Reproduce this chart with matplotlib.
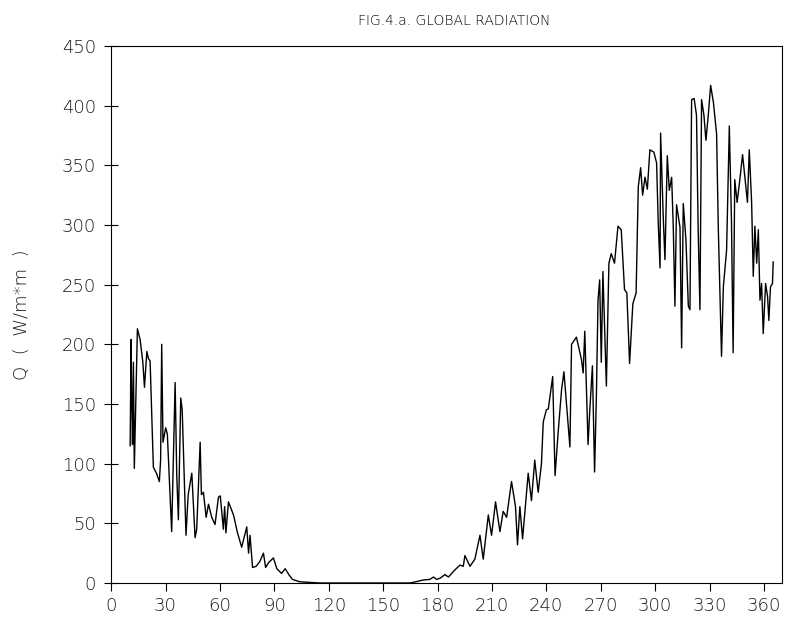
import matplotlib
matplotlib.use('Agg')
import matplotlib.pyplot as plt

# Суточная суммарная радиация
days = [10.5, 11.0, 11.4, 11.8, 12.3, 12.8, 14.5, 16.0, 17.5, 18.4, 19.7, 20.6, 21.5,
        23.3, 25.0, 26.6, 27.3, 27.9, 28.6, 30.1, 31.0, 33.4, 35.3, 36.2, 37.1, 38.4,
        39.2, 41.3, 42.5, 44.5, 46.3, 47.2, 49.1, 49.8, 50.9, 52.4, 53.7, 55.5, 57.3,
        59.2, 60.2, 61.9, 62.6, 63.3, 64.7, 67.5, 69.7, 72.0, 74.8, 75.8, 76.6, 78.0,
        80.0, 82.0, 84.0, 85.2, 86.8, 89.5, 91.4, 94.0, 96.0, 98.0, 100.0, 102.0, 104.0,
        110.0, 115.0, 165.0, 168.0, 172.0, 175.8, 177.7, 179.5, 181.4, 184.1, 186.0,
        189.6, 192.4, 194.2, 195.1, 197.9, 200.6, 203.4, 205.2, 208.0, 209.8, 212.0,
        214.4, 216.2, 218.1, 220.8, 223.0, 224.1, 225.4, 226.9, 230.0, 231.8, 233.6,
        235.5, 237.3, 238.3, 240.0, 241.1, 243.5, 244.8, 246.6, 248.4, 249.7, 251.5,
        253.0, 253.9, 256.6, 259.4, 260.3, 261.2, 263.0, 263.9, 265.4, 266.6, 267.6,
        268.5, 269.4, 270.3, 271.2, 273.1, 274.5, 275.8, 277.6, 279.5, 281.3, 283.1,
        284.4, 285.9, 287.7, 289.5, 290.7, 292.0, 293.1, 294.4, 295.7, 297.1, 299.3,
        300.8, 301.7, 302.7, 303.0, 304.5, 305.4, 306.7, 307.8, 309.1, 310.0, 310.9,
        311.8, 313.7, 314.6, 315.5, 317.0, 318.3, 319.2, 320.1, 321.5, 322.8, 323.7,
        324.7, 325.6, 326.9, 328.0, 329.3, 330.6, 332.1, 333.9, 334.8, 336.6, 337.6,
        339.4, 340.9, 342.1, 343.0, 343.9, 345.2, 346.7, 348.2, 350.0, 350.9, 351.9,
        353.2, 354.1, 355.0, 356.0, 356.9, 357.8, 358.7, 359.6, 360.9, 362.0, 362.7,
        363.6, 364.7, 365.1]
q = [115, 204, 150, 116, 185, 96, 213, 204, 185, 164, 194, 188, 186,
     97, 92, 85, 103, 200, 118, 130, 125, 43, 168, 90, 53, 155,
     145, 40, 74, 92, 38, 45, 118, 74, 76, 55, 66, 55, 49,
     72, 73, 45, 64, 42, 68, 57, 42, 30, 47, 25, 40, 13,
     14, 18, 25, 13, 17, 21, 12, 8, 12, 7, 3, 2, 1,
     0.5, 0, 0, 1, 2.5, 3, 5, 3, 4, 7, 5,
     11, 15, 14, 23, 14, 20, 40, 20, 57, 40, 68,
     43, 60, 55, 85, 64, 32, 64, 37, 92, 69, 103,
     76, 100, 135, 145, 146, 173, 90, 128, 162, 177, 143,
     114, 200, 206, 187, 176, 211, 116, 143, 182, 93, 157,
     237, 254, 185, 261, 165, 268, 276, 268, 299, 296, 246,
     243, 184, 234, 243, 332, 348, 325, 340, 330, 363, 361,
     352, 302, 264, 377, 305, 271, 358, 329, 340, 298, 232,
     317, 298, 197, 318, 287, 232, 229, 405, 406, 392, 298,
     229, 405, 392, 371, 392, 417, 403, 376, 299, 190, 248,
     279, 383, 302, 193, 338, 319, 338, 359, 332, 319, 363,
     319, 257, 299, 268, 296, 237, 251, 209, 251, 240, 220,
     248, 251, 269]

x_ticks = list(range(0, 361, 30))
y_ticks = list(range(0, 451, 50))

plt.rcParams['font.family'] = ['DejaVu Sans']

fig = plt.figure(figsize=(7.88, 6.2), dpi=100)
ax = fig.add_axes([0.141, 0.0597, 0.8515, 0.8661])
ax.plot(days, q, color='black', linewidth=1.0)

ax.set_xlim(0, 370)
ax.set_ylim(0, 450)
ax.set_xticks(x_ticks)
ax.set_yticks(y_ticks)
ax.tick_params(axis='x', direction='out', length=6, labelsize=13, pad=4)
ax.tick_params(axis='y', direction='inout', length=10, labelsize=13, pad=6)
for lab in ax.get_xticklabels() + ax.get_yticklabels():
    lab.set_fontweight('light')
    lab.set_color('#1a1a1a')

ax.set_ylabel('Q  (  W/m*m  )', fontsize=13, fontweight='light', labelpad=22,
              color='#1a1a1a')
fig.text(0.577, 0.966, 'FIG.4.a. GLOBAL RADIATION', ha='center', va='center',
         fontsize=10, fontweight='light')

fig.savefig('out.png', dpi=100)
